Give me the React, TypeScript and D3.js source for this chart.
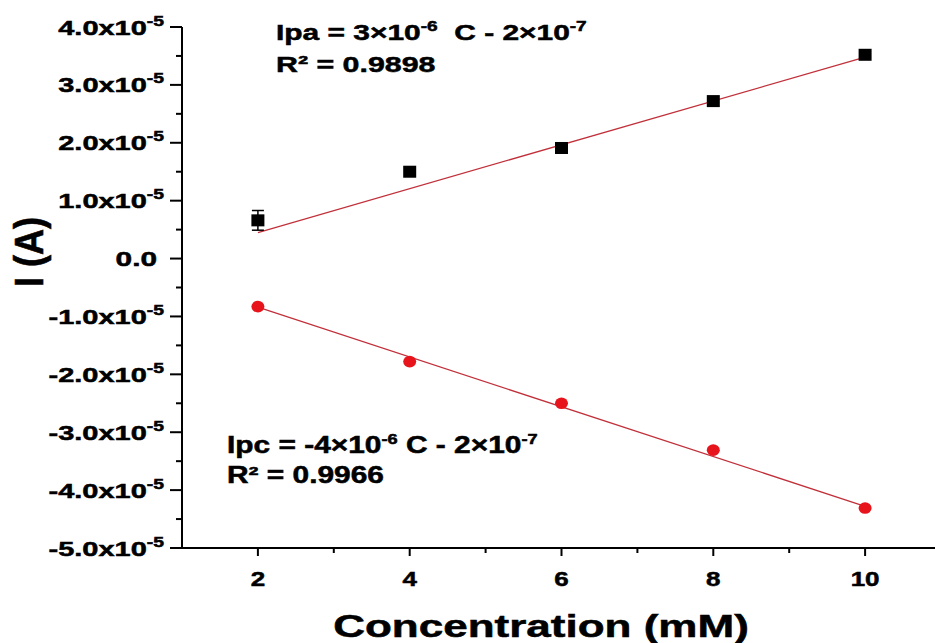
import React from "react";
import * as d3 from "d3";

const conc = [2, 4, 6, 8, 10];
const ipa = [6.6e-6, 1.5e-5, 1.91e-5, 2.72e-5, 3.52e-5];
const ipaErr = [1.7e-6, 0, 0, 0, 0];
const ipc = [-8.3e-6, -1.78e-5, -2.5e-5, -3.31e-5, -4.31e-5];
const fitX = [2, 10];
const ipaFit = [4.5e-6, 3.48e-5];
const ipcFit = [-8.4e-6, -4.28e-5];
const yTicks = [4e-5, 3e-5, 2e-5, 1e-5, 0, -1e-5, -2e-5, -3e-5, -4e-5, -5e-5];
const yMinor = [3.5e-5, 2.5e-5, 1.5e-5, 0.5e-5, -0.5e-5, -1.5e-5, -2.5e-5, -3.5e-5, -4.5e-5];
const xTicks = [2, 4, 6, 8, 10];
const xMinor = [3, 5, 7, 9];

const W = 935;
const H = 643;
const FONT = "'Liberation Sans', Arial, sans-serif";
const TS = { stroke: "#000", strokeWidth: 0.5 };

export default function App() {
  const x = d3.scaleLinear().domain([1, 11]).range([182, 941]);
  const y = d3.scaleLinear().domain([-5e-5, 4e-5]).range([548, 27]);
  const line = d3
    .line<number>()
    .x((_, i) => x(fitX[i]))
    .y((d) => y(d));

  const lineColor = "#c0303a";

  return (
    <div style={{ position: "absolute", left: 0, top: 0 }}>
      <svg width={W} height={H} style={{ display: "block", background: "#fff" }}>
        {/* axes */}
        <line x1={x(1)} x2={W} y1={y(-5e-5)} y2={y(-5e-5)} stroke="#000" strokeWidth={2} />
        <line x1={x(1)} x2={x(1)} y1={y(4e-5)} y2={y(-5e-5) + 1} stroke="#000" strokeWidth={2} />
        {yTicks.map((t) => (
          <line key={"yt" + t} x1={x(1) - 12} x2={x(1)} y1={y(t)} y2={y(t)} stroke="#000" strokeWidth={2} />
        ))}
        {yMinor.map((t) => (
          <line key={"ym" + t} x1={x(1) - 6} x2={x(1)} y1={y(t)} y2={y(t)} stroke="#000" strokeWidth={2} />
        ))}
        {xTicks.map((t) => (
          <line key={"xt" + t} x1={x(t)} x2={x(t)} y1={y(-5e-5)} y2={y(-5e-5) + 8} stroke="#000" strokeWidth={2} />
        ))}
        {xMinor.map((t) => (
          <line key={"xm" + t} x1={x(t)} x2={x(t)} y1={y(-5e-5)} y2={y(-5e-5) + 5} stroke="#000" strokeWidth={2} />
        ))}
        {/* y tick labels */}
        {yTicks.map((t) => {
          const m = t / 1e-5;
          if (t === 0) {
            return (
              <text
                key={"yl" + t}
                transform={`translate(157,${y(t) + 7.5}) scale(1.42,1)`}
                textAnchor="end"
                fontFamily={FONT}
                fontWeight="bold"
                fontSize={21}
                {...TS}
              >
                0.0
              </text>
            );
          }
          return (
            <text
              key={"yl" + t}
              transform={`translate(164,${y(t) + 7.5}) scale(1.38,1)`}
              textAnchor="end"
              fontFamily={FONT}
              fontWeight="bold"
              fontSize={21}
              {...TS}
            >
              {m.toFixed(1) + "x10"}
              <tspan fontSize={14} dy={-9}>-5</tspan>
            </text>
          );
        })}
        {/* x tick labels */}
        {xTicks.map((t) => (
          <text
            key={"xl" + t}
            transform={`translate(${x(t)},586) scale(1.3,1)`}
            textAnchor="middle"
            fontFamily={FONT}
            fontWeight="bold"
            fontSize={20}
            {...TS}
          >
            {t}
          </text>
        ))}
        {/* axis titles */}
        <text
          transform={`translate(541,637) scale(1.42,1)`}
          textAnchor="middle"
          fontFamily={FONT}
          fontWeight="bold"
          fontSize={31}
          {...TS}
        >
          Concentration (mM)
        </text>
        <text
          transform={`translate(43,252) rotate(-90) scale(1,1.15)`}
          textAnchor="middle"
          fontFamily={FONT}
          fontWeight="bold"
          fontSize={36}
          {...TS}
        >
          I (A)
        </text>
        {/* fit lines */}
        <path d={line(ipaFit) || ""} fill="none" stroke={lineColor} strokeWidth={1.3} />
        <path d={line(ipcFit) || ""} fill="none" stroke={lineColor} strokeWidth={1.3} />
        {/* error bars */}
        {conc.map((c, i) =>
          ipaErr[i] > 0 ? (
            <g key={"e" + c} stroke="#000" strokeWidth={1.5}>
              <line x1={x(c)} x2={x(c)} y1={y(ipa[i] + ipaErr[i])} y2={y(ipa[i] - ipaErr[i])} />
              <line x1={x(c) - 6} x2={x(c) + 6} y1={y(ipa[i] + ipaErr[i])} y2={y(ipa[i] + ipaErr[i])} />
              <line x1={x(c) - 6} x2={x(c) + 6} y1={y(ipa[i] - ipaErr[i])} y2={y(ipa[i] - ipaErr[i])} />
            </g>
          ) : null
        )}
        {/* markers */}
        {conc.map((c, i) => (
          <rect key={"s" + c} x={x(c) - 6.5} y={y(ipa[i]) - 6} width={13} height={12} fill="#000" />
        ))}
        {conc.map((c, i) => (
          <ellipse key={"c" + c} cx={x(c)} cy={y(ipc[i])} rx={6.5} ry={5.8} fill="#e8141c" />
        ))}
        {/* annotations */}
        <text
          transform={`translate(276,40) scale(1.36,1)`}
          fontFamily={FONT}
          fontWeight="bold"
          fontSize={22}
          style={{ whiteSpace: "pre" }}
          {...TS}
        >
          {"Ipa = 3×10"}
          <tspan fontSize={14} dy={-9}>-6</tspan>
          <tspan dy={9}>{"  C - 2×10"}</tspan>
          <tspan fontSize={14} dy={-9}>-7</tspan>
        </text>
        <text
          transform={`translate(276,72) scale(1.38,1)`}
          fontFamily={FONT}
          fontWeight="bold"
          fontSize={22}
          {...TS}
        >
          R² = 0.9898
        </text>
        <text
          transform={`translate(227,453) scale(1.3,1)`}
          fontFamily={FONT}
          fontWeight="bold"
          fontSize={23}
          style={{ whiteSpace: "pre" }}
          {...TS}
        >
          {"Ipc = -4×10"}
          <tspan fontSize={14} dy={-9}>-6</tspan>
          <tspan dy={9}>{" C - 2×10"}</tspan>
          <tspan fontSize={14} dy={-9}>-7</tspan>
        </text>
        <text
          transform={`translate(227,483) scale(1.3,1)`}
          fontFamily={FONT}
          fontWeight="bold"
          fontSize={23}
          {...TS}
        >
          R² = 0.9966
        </text>
      </svg>
    </div>
  );
}
